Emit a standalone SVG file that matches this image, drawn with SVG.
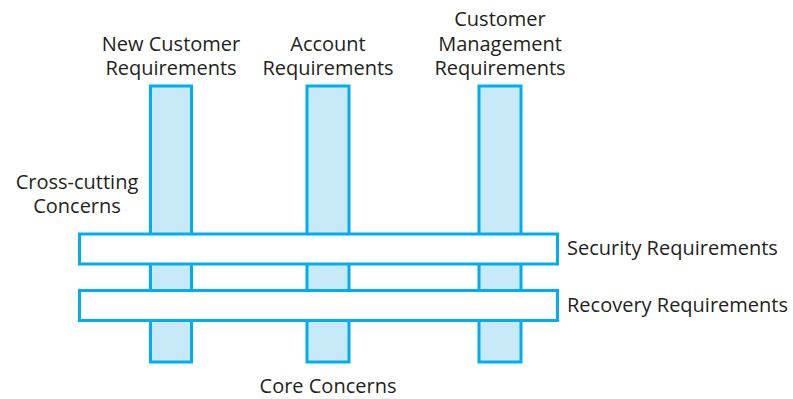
<svg xmlns="http://www.w3.org/2000/svg" width="793" height="399" viewBox="0 0 793 399">
<style>
.v{fill:#c7e9f8;stroke:#00aeef;stroke-width:3}
.h{fill:#fff;stroke:#00aeef;stroke-width:3}
text{font-family:"Open Sans","Liberation Sans",sans-serif;font-size:20px;fill:#231f20}
.c{text-anchor:middle}
</style>
<rect width="793" height="399" fill="#fff"/>
<g id="core-new-customer">
<rect class="v" x="150.5" y="86" width="41" height="276"/>
<text class="c" x="171" y="51">New Customer<tspan x="171" dy="24">Requirements</tspan></text>
</g>
<g id="core-account">
<rect class="v" x="307" y="86" width="42" height="276"/>
<text class="c" x="328" y="51">Account<tspan x="328" dy="24">Requirements</tspan></text>
</g>
<g id="core-customer-mgmt">
<rect class="v" x="479" y="86" width="42" height="276"/>
<text class="c" x="500" y="26">Customer<tspan x="500" dy="25">Management</tspan><tspan x="500" dy="24">Requirements</tspan></text>
</g>
<g id="cross-security">
<rect class="h" x="79.5" y="234" width="478" height="30"/>
<text x="567" y="255">Security Requirements</text>
</g>
<g id="cross-recovery">
<rect class="h" x="79.5" y="290.5" width="478" height="30"/>
<text x="567" y="312">Recovery Requirements</text>
</g>
<g id="label-cross-cutting">
<text class="c" x="77" y="189">Cross-cutting<tspan x="77" dy="24">Concerns</tspan></text>
</g>
<g id="label-core">
<text class="c" x="328" y="393">Core Concerns</text>
</g>
<g id="connectors"/>
</svg>
